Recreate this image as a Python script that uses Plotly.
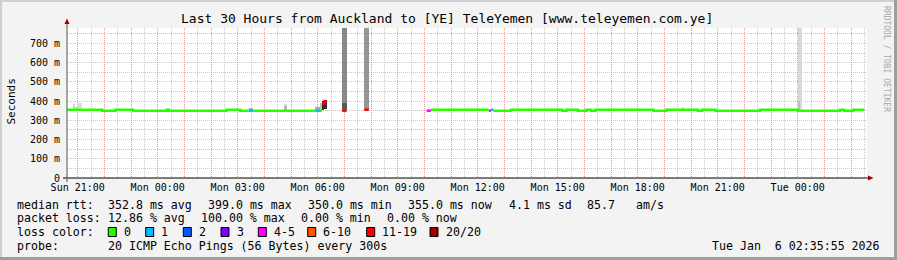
import pandas as pd
import plotly.graph_objects as go

# ---------------- data ----------------
START = "2026-01-04 20:35:55"
END = "2026-01-06 02:35:55"

# median rtt, as step segments: segment start, median (ms), pings lost of 20 (None = no data)
med_time = [
    "2026-01-04 20:35", "2026-01-04 21:55", "2026-01-04 22:25", "2026-01-04 23:05",
    "2026-01-05 00:20", "2026-01-05 00:25", "2026-01-05 02:35", "2026-01-05 03:05",
    "2026-01-05 03:25", "2026-01-05 03:35", "2026-01-05 05:55", "2026-01-05 06:05",
    "2026-01-05 06:10", "2026-01-05 06:15", "2026-01-05 06:20", "2026-01-05 06:55",
    "2026-01-05 07:05", "2026-01-05 07:45", "2026-01-05 07:55", "2026-01-05 10:05",
    "2026-01-05 10:15", "2026-01-05 12:25", "2026-01-05 12:30", "2026-01-05 12:35",
    "2026-01-05 13:15", "2026-01-05 15:10", "2026-01-05 15:20", "2026-01-05 15:45",
    "2026-01-05 16:05", "2026-01-05 16:15", "2026-01-05 16:25", "2026-01-05 18:35",
    "2026-01-05 19:05", "2026-01-05 20:15", "2026-01-05 20:25", "2026-01-05 20:55",
    "2026-01-05 22:35", "2026-01-06 00:00", "2026-01-06 01:35", "2026-01-06 01:45",
    "2026-01-06 02:05", "2026-01-06 02:30",
]
med_ms = [
    355, 350, 355, 350, 355, 350, 355, 350, 350, 350, 350, 350,
    388, 399, None, 350, None, 355, None, 350, 355, 350, 355, 350,
    355, 350, 355, 350, 355, 350, 355, 350, 355, 350, 355, 350,
    355, 350, 355, 350, 355, None,
]
med_lost = [
    0, 0, 0, 0, 0, 0, 0, 0, 1, 0, 1, 0,
    15, 15, None, 15, None, 15, None, 4, 0, 4, 1, 0,
    0, 0, 0, 0, 0, 0, 0, 0, 0, 0, 0, 0,
    0, 0, 0, 0, 0, None,
]

# smoke (spread of the 20 pings) per 300 s step: step start, lowest, highest (ms), density 0..1
smoke_time = [
    "2026-01-04 20:50", "2026-01-04 20:55", "2026-01-04 21:00", "2026-01-04 21:05",
    "2026-01-05 03:25", "2026-01-05 03:30", "2026-01-05 04:45", "2026-01-05 04:45",
    "2026-01-05 05:55", "2026-01-05 06:00", "2026-01-05 06:05",
    "2026-01-05 06:10", "2026-01-05 06:15",
    "2026-01-05 06:55", "2026-01-05 07:00", "2026-01-05 06:55", "2026-01-05 07:00",
    "2026-01-05 07:45", "2026-01-05 07:50",
    "2026-01-05 19:40",
    "2026-01-06 00:00", "2026-01-06 00:05", "2026-01-06 00:00",
]
smoke_lo = [
    352, 352, 352, 352,
    352, 352, 352, 352,
    352, 352, 352,
    356, 360,
    352, 352, 352, 352,
    355, 355,
    352,
    355, 355, 355,
]
smoke_hi = [
    385, 370, 392, 392,
    365, 365, 385, 372,
    370, 370, 390,
    398, 405,
    900, 900, 392, 392,
    900, 900,
    370,
    900, 900, 400,
]
smoke_density = [
    0.15, 0.15, 0.1, 0.1,
    0.35, 0.35, 0.1, 0.3,
    0.35, 0.35, 0.25,
    0.95, 0.95,
    0.52, 0.52, 0.75, 0.75,
    0.45, 0.45,
    0.15,
    0.12, 0.12, 0.25,
]

# axis labels
x_label_time = [
    "2026-01-04 21:00", "2026-01-05 00:00", "2026-01-05 03:00", "2026-01-05 06:00",
    "2026-01-05 09:00", "2026-01-05 12:00", "2026-01-05 15:00", "2026-01-05 18:00",
    "2026-01-05 21:00", "2026-01-06 00:00",
]
x_label_text = [
    "Sun 21:00", "Mon 00:00", "Mon 03:00", "Mon 06:00", "Mon 09:00",
    "Mon 12:00", "Mon 15:00", "Mon 18:00", "Mon 21:00", "Tue 00:00",
]
y_tick_vals = [0, 100, 200, 300, 400, 500, 600, 700]
y_tick_text = ["0", "100 m", "200 m", "300 m", "400 m", "500 m", "600 m", "700 m"]

# loss colour legend
loss_labels = ["0", "1", "2", "3", "4-5", "6-10", "11-19", "20/20"]
loss_upper = [0, 1, 2, 3, 5, 10, 19, 20]
loss_colors = ["#26ff00", "#00b8ff", "#0059ff", "#7e00ff", "#ff00ff", "#ff5500", "#ff0000", "#a10000"]

# legend text
stat_line1 = [("median rtt:", 16), ("352.8 ms avg", 107), ("399.0 ms max", 207),
              ("350.0 ms min", 306.5), ("355.0 ms now", 406.5), ("4.1 ms sd", 507.5),
              ("85.7", 586), ("am/s", 635)]
stat_line2 = [("packet loss:", 16), ("12.86 % avg", 106.7), ("100.00 % max", 200),
              ("0.00 % min", 300), ("0.00 % now", 386)]
probe_text = "20 ICMP Echo Pings (56 Bytes) every 300s"
stamp_text = "Tue Jan\u00a0 6 02:35:55 2026"
title_text = "Last 30 Hours from Auckland to [YE] TeleYemen [www.teleyemen.com.ye]"

# ---------------- layout geometry ----------------
W, H = 897, 260
X0, PW = 67, 800
Y0, PH = 178, 150
FONT = "DejaVu Sans Mono"


def px(x):
    return (x - X0) / PW


def py(y):
    return (Y0 - y) / PH


def loss_color(n):
    for up, c in zip(loss_upper, loss_colors):
        if n <= up:
            return c
    return loss_colors[-1]


def grey(d):
    g = int(round(240 - 200 * d))
    return f"rgb({g},{g},{g})"


fig = go.Figure()

# smoke
lo = pd.Series(smoke_lo, dtype=float)
hi = pd.Series(smoke_hi, dtype=float)
fig.add_trace(go.Bar(
    x=smoke_time, base=smoke_lo, y=list(hi - lo),
    width=300000, offset=0,
    marker=dict(color=[grey(d) for d in smoke_density], line=dict(width=0)),
    hoverinfo="skip",
))

# median line, one trace per loss colour
runs = {}
prev_color = None
for i in range(len(med_time) - 1):
    v = med_ms[i]
    t0, t1 = med_time[i], med_time[i + 1]
    if v is None:
        prev_color = None
        continue
    c = loss_color(med_lost[i])
    xs, ys = runs.setdefault(c, ([], []))
    if c == prev_color:
        xs.pop(); ys.pop()
        xs.extend([t0, t1]); ys.extend([v, v])
    else:
        if xs:
            xs.append(None); ys.append(None)
        xs.extend([t0, t1]); ys.extend([v, v])
    prev_color = c
for c, (xs, ys) in runs.items():
    fig.add_trace(go.Scatter(
        x=xs, y=ys, mode="lines", line=dict(color=c, width=2.5, shape="hv"),
        hoverinfo="skip", connectgaps=False,
    ))

hour_ticks = pd.date_range("2026-01-04 21:00", "2026-01-06 02:00", freq="h")
label_map = dict(zip(pd.to_datetime(x_label_time), x_label_text))
half_ticks = pd.date_range("2026-01-04 20:30", "2026-01-06 02:30", freq="30min")

MAJOR = "rgba(240,110,110,0.5)"
MINOR = "rgba(160,160,160,0.6)"

fig.update_layout(
    width=W, height=H,
    margin=dict(l=X0, r=W - X0 - PW, t=Y0 - PH, b=H - Y0),
    paper_bgcolor="#f3f3f3", plot_bgcolor="#ffffff",
    showlegend=False, barmode="overlay", bargap=0,
    template="none",
    font=dict(family=FONT, size=10, color="#000000"),
    xaxis=dict(
        type="date", range=[START, END],
        tickmode="array",
        tickvals=[t.strftime("%Y-%m-%d %H:%M:%S") for t in hour_ticks],
        ticktext=[label_map.get(t, "") for t in hour_ticks],
        showgrid=True, gridcolor=MAJOR, griddash="1px,1px", gridwidth=1,
        minor=dict(tickmode="array",
                   tickvals=[t.strftime("%Y-%m-%d %H:%M:%S") for t in half_ticks],
                   showgrid=True, gridcolor=MINOR, griddash="1px,1px", gridwidth=1),
        ticks="", showline=False, zeroline=False, automargin=False,
        tickfont=dict(family=FONT, size=10), ticklabelstandoff=2,
        fixedrange=True,
    ),
    yaxis=dict(
        range=[0, PH / 0.1923],
        tickmode="array", tickvals=y_tick_vals, ticktext=y_tick_text,
        showgrid=True, gridcolor=MAJOR, griddash="1px,1px", gridwidth=1,
        minor=dict(tickmode="array", tickvals=[v + 50 for v in y_tick_vals],
                   showgrid=True, gridcolor=MINOR, griddash="1px,1px", gridwidth=1),
        ticks="", showline=False, zeroline=False, automargin=False,
        tickfont=dict(family=FONT, size=10), ticklabelstandoff=6,
        fixedrange=True,
    ),
)

shapes = []
# frame border
shapes.append(dict(type="rect", xref="paper", yref="paper", x0=px(0), x1=px(2), y0=py(H), y1=py(0),
                   line=dict(width=0), fillcolor="#cfcfcf"))
shapes.append(dict(type="rect", xref="paper", yref="paper", x0=px(0), x1=px(W), y0=py(2), y1=py(0),
                   line=dict(width=0), fillcolor="#cfcfcf"))
shapes.append(dict(type="rect", xref="paper", yref="paper", x0=px(W - 3), x1=px(W), y0=py(H), y1=py(0),
                   line=dict(width=0), fillcolor="#9e9e9e"))
shapes.append(dict(type="rect", xref="paper", yref="paper", x0=px(0), x1=px(W), y0=py(H), y1=py(H - 3),
                   line=dict(width=0), fillcolor="#9e9e9e"))
# axes
shapes.append(dict(type="line", xref="paper", yref="paper", x0=px(63), x1=px(868), y0=0, y1=0,
                   line=dict(color="#000000", width=1)))
shapes.append(dict(type="line", xref="paper", yref="paper", x0=0, x1=0, y0=py(182), y1=py(23),
                   line=dict(color="#555555", width=1)))
shapes.append(dict(type="path", xref="paper", yref="paper",
                   path=f"M {px(868)} {py(175.5)} L {px(873.5)} {py(178)} L {px(868)} {py(180.5)} Z",
                   fillcolor="#a00000", line=dict(width=0)))
shapes.append(dict(type="path", xref="paper", yref="paper",
                   path=f"M {px(64.5)} {py(24)} L {px(67)} {py(18.5)} L {px(69.5)} {py(24)} Z",
                   fillcolor="#a00000", line=dict(width=0)))

annotations = []


def text(s, x, y, size=11.6, anchor="left", color="#000000", angle=0):
    annotations.append(dict(text=s, x=px(x), y=py(y), xref="paper", yref="paper",
                            xanchor=anchor, yanchor="middle", showarrow=False,
                            textangle=angle, borderpad=0,
                            font=dict(family=FONT, size=size, color=color)))


text(title_text, 447, 19, size=13, anchor="center")
text("Seconds", 11, 101.5, size=11, anchor="center", angle=-90)
text("RRDTOOL / TOBI OETIKER", 887, 59, size=8, anchor="center", color="#a8a8a8", angle=90)

for s, x in stat_line1:
    text(s, x, 205)
for s, x in stat_line2:
    text(s, x, 218.3)
text("loss color:", 16, 232.3)
box_x = [108.3, 145.7, 183.3, 221, 258.3, 307.7, 366.7, 430]
for bx, lab, col in zip(box_x, loss_labels, loss_colors):
    shapes.append(dict(type="rect", xref="paper", yref="paper",
                       x0=px(bx), x1=px(bx + 8), y0=py(236.5), y1=py(227.5),
                       fillcolor=col, line=dict(color="#000000", width=1)))
    text(lab, bx + 14.5, 232.3)
text("probe:", 16, 246)
text(probe_text, 107, 246)
text(stamp_text, 881, 246, anchor="right")

fig.update_layout(shapes=shapes, annotations=annotations)
fig.write_html("out.html")
